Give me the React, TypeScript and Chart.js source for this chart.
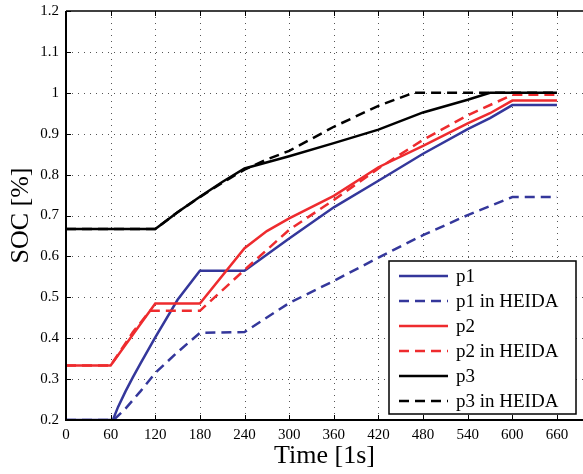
import React, { useEffect, useRef } from "react";
import { Chart, registerables } from "chart.js";

Chart.register(...registerables);

const xTicks = [0, 60, 120, 180, 240, 300, 360, 420, 480, 540, 600, 660];
const yTicks = [0.2, 0.3, 0.4, 0.5, 0.6, 0.7, 0.8, 0.9, 1.0, 1.1, 1.2];

const p1Time = [0, 63, 70, 80, 90, 100, 120, 150, 180, 240, 300, 360, 420, 480, 540, 570, 600, 660];
const p1Soc = [0.2, 0.2, 0.232, 0.27, 0.305, 0.338, 0.402, 0.494, 0.565, 0.565, 0.644, 0.72, 0.785, 0.851, 0.911, 0.938, 0.97, 0.97];

const p1hTime = [0, 64, 80, 100, 120, 150, 180, 240, 300, 360, 420, 480, 540, 600, 660];
const p1hSoc = [0.2, 0.2, 0.228, 0.27, 0.315, 0.366, 0.413, 0.415, 0.486, 0.54, 0.597, 0.652, 0.701, 0.745, 0.745];

const p2Time = [0, 60, 120, 180, 240, 270, 300, 360, 420, 480, 540, 570, 600, 660];
const p2Soc = [0.333, 0.333, 0.485, 0.485, 0.62, 0.662, 0.693, 0.748, 0.818, 0.87, 0.925, 0.95, 0.981, 0.981];

const p2hTime = [0, 60, 90, 113, 180, 240, 300, 360, 420, 480, 540, 600, 660];
const p2hSoc = [0.333, 0.333, 0.415, 0.467, 0.467, 0.567, 0.665, 0.738, 0.815, 0.885, 0.945, 0.995, 0.995];

const p3Time = [0, 120, 150, 180, 210, 240, 300, 360, 420, 480, 540, 570, 660];
const p3Soc = [0.667, 0.667, 0.708, 0.746, 0.782, 0.815, 0.845, 0.877, 0.91, 0.952, 0.983, 1.0, 1.0];

const p3hTime = [0, 120, 150, 180, 210, 240, 270, 300, 360, 420, 467, 660];
const p3hSoc = [0.667, 0.667, 0.708, 0.745, 0.78, 0.812, 0.837, 0.858, 0.917, 0.968, 1.0, 1.0];

const seriesLabels = ["p1", "p1 in HEIDA", "p2", "p2 in HEIDA", "p3", "p3 in HEIDA"];

const BLUE = "#34379b";
const RED = "#ee2b2e";
const BLACK = "#000000";
const DASH = [10, 6];
const FONT = "'Liberation Serif', 'Times New Roman', serif";

function pts(t: number[], v: number[]) {
  return t.map((x, i) => ({ x, y: v[i] }));
}

const decorPlugin = {
  id: "decor",
  beforeDatasetsDraw(chart: any) {
    const { ctx, chartArea: ca, scales } = chart;
    const xs = scales.x;
    const ys = scales.y;
    ctx.save();
    ctx.strokeStyle = "#555";
    ctx.lineWidth = 1;
    ctx.setLineDash([1, 5]);
    xTicks.forEach((t) => {
      if (t === 0) return;
      const px = Math.round(xs.getPixelForValue(t)) + 0.5;
      ctx.beginPath();
      ctx.moveTo(px, ca.top);
      ctx.lineTo(px, ca.bottom);
      ctx.stroke();
    });
    yTicks.forEach((v) => {
      if (Math.abs(v - 0.2) < 1e-6 || Math.abs(v - 1.2) < 1e-6) return;
      const py = Math.round(ys.getPixelForValue(v)) + 0.5;
      ctx.beginPath();
      ctx.moveTo(ca.left, py);
      ctx.lineTo(ca.right, py);
      ctx.stroke();
    });
    ctx.restore();
  },
  afterDatasetsDraw(chart: any) {
    const { ctx, chartArea: ca, scales } = chart;
    const xs = scales.x;
    const ys = scales.y;
    ctx.save();
    ctx.setLineDash([]);
    ctx.strokeStyle = "#000";
    ctx.lineWidth = 1;
    xTicks.forEach((t) => {
      const px = Math.round(xs.getPixelForValue(t)) + 0.5;
      ctx.beginPath();
      ctx.moveTo(px, ca.bottom);
      ctx.lineTo(px, ca.bottom - 5);
      ctx.moveTo(px, ca.top);
      ctx.lineTo(px, ca.top + 5);
      ctx.stroke();
    });
    yTicks.forEach((v) => {
      const py = Math.round(ys.getPixelForValue(v)) + 0.5;
      ctx.beginPath();
      ctx.moveTo(ca.left, py);
      ctx.lineTo(ca.left + 5, py);
      ctx.stroke();
    });
    ctx.lineWidth = 2;
    ctx.beginPath();
    ctx.moveTo(ca.left, ca.top);
    ctx.lineTo(ca.left, ca.bottom + 1);
    ctx.moveTo(ca.left - 1, ca.bottom);
    ctx.lineTo(ca.right, ca.bottom);
    ctx.stroke();
    ctx.lineWidth = 1.5;
    ctx.beginPath();
    ctx.moveTo(ca.left, ca.top);
    ctx.lineTo(ca.right, ca.top);
    ctx.stroke();
    ctx.restore();
  },
  afterDraw(chart: any) {
    const { ctx } = chart;
    const bx = 389, by = 261, bw = 187, bh = 153;
    ctx.save();
    ctx.fillStyle = "#fff";
    ctx.fillRect(bx, by, bw, bh);
    ctx.strokeStyle = "#000";
    ctx.lineWidth = 1.5;
    ctx.setLineDash([]);
    ctx.strokeRect(bx, by, bw, bh);
    ctx.font = `19px ${FONT}`;
    ctx.textBaseline = "middle";
    ctx.textAlign = "left";
    chart.data.datasets.forEach((ds: any, i: number) => {
      const y = 276 + i * 25;
      ctx.strokeStyle = ds.borderColor;
      ctx.lineWidth = ds.borderWidth;
      ctx.setLineDash(ds.borderDash || []);
      ctx.beginPath();
      ctx.moveTo(399, y);
      ctx.lineTo(448, y);
      ctx.stroke();
      ctx.setLineDash([]);
      ctx.fillStyle = "#000";
      ctx.fillText(ds.label, 456, y + 1);
    });
    ctx.restore();
  },
};

export default function App() {
  const ref = useRef<HTMLCanvasElement | null>(null);
  useEffect(() => {
    if (!ref.current) return;
    const colors = [BLUE, BLUE, RED, RED, BLACK, BLACK];
    const data = [
      pts(p1Time, p1Soc),
      pts(p1hTime, p1hSoc),
      pts(p2Time, p2Soc),
      pts(p2hTime, p2hSoc),
      pts(p3Time, p3Soc),
      pts(p3hTime, p3hSoc),
    ];
    const chart = new Chart(ref.current, {
      type: "line",
      data: {
        datasets: data.map((d, i) => ({
          label: seriesLabels[i],
          data: d,
          borderColor: colors[i],
          backgroundColor: colors[i],
          borderWidth: 2.5,
          borderDash: i % 2 === 1 ? DASH : [],
          pointRadius: 0,
          tension: 0,
          fill: false,
          order: 6 - i,
        })),
      },
      options: {
        animation: false,
        responsive: false,
        devicePixelRatio: 1,
        layout: { padding: { top: 11, right: 0, left: 0, bottom: 0 } },
        plugins: { legend: { display: false }, tooltip: { enabled: false } },
        scales: {
          x: {
            type: "linear",
            min: 0,
            max: 695,
            grid: { display: false, drawTicks: false },
            border: { display: false },
            afterBuildTicks: (s: any) => {
              s.ticks = xTicks.map((v) => ({ value: v }));
            },
            afterFit: (s: any) => {
              s.height = 54;
              s.paddingRight = 0;
            },
            ticks: {
              color: "#000",
              font: { family: FONT, size: 15 },
              padding: 6,
              maxRotation: 0,
              autoSkip: false,
              callback: (v: any) => String(v),
            },
            title: {
              display: true,
              text: "Time [1s]",
              color: "#000",
              font: { family: FONT, size: 26 },
              padding: { top: 0, bottom: 2 },
            },
          },
          y: {
            type: "linear",
            min: 0.2,
            max: 1.2,
            grid: { display: false, drawTicks: false },
            border: { display: false },
            afterBuildTicks: (s: any) => {
              s.ticks = yTicks.map((v) => ({ value: v }));
            },
            afterFit: (s: any) => {
              s.width = 66;
              s.paddingTop = 0;
              s.paddingBottom = 0;
            },
            ticks: {
              color: "#000",
              font: { family: FONT, size: 15 },
              padding: 7,
              autoSkip: false,
              callback: (v: any) => String(Math.round(Number(v) * 10) / 10),
            },
            title: {
              display: true,
              text: "SOC [%]",
              color: "#000",
              font: { family: FONT, size: 26 },
              padding: { top: 6, bottom: 0 },
            },
          },
        },
      },
      plugins: [decorPlugin],
    });
    return () => chart.destroy();
  }, []);
  return (
    <div style={{ position: "fixed", left: 0, top: 0, width: 583, height: 474, background: "#fff" }}>
      <canvas ref={ref} width={583} height={474} style={{ display: "block", width: 583, height: 474 }} />
    </div>
  );
}
